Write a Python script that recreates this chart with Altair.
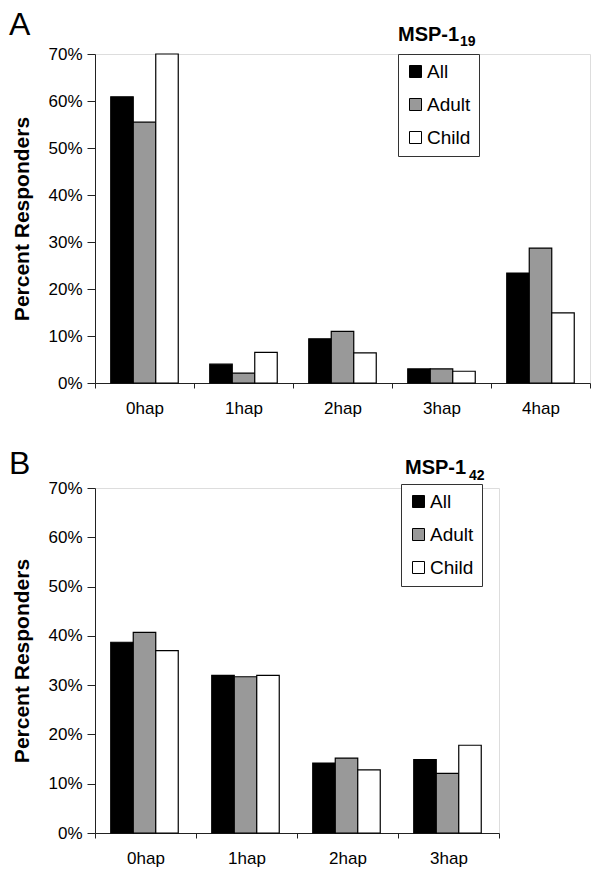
import altair as alt
import pandas as pd

groups = ["All", "Adult", "Child"]
group_colors = ["#000000", "#999999", "#ffffff"]

cats_a = ["0hap", "1hap", "2hap", "3hap", "4hap"]
all_a = [60.9, 4.0, 9.4, 3.0, 23.4]
adult_a = [55.5, 2.1, 11.0, 3.0, 28.7]
child_a = [70.0, 6.5, 6.4, 2.5, 14.9]

cats_b = ["0hap", "1hap", "2hap", "3hap"]
all_b = [38.7, 32.0, 14.2, 14.9]
adult_b = [40.7, 31.7, 15.2, 12.1]
child_b = [37.0, 32.0, 12.8, 17.8]

y_ticks = [0, 10, 20, 30, 40, 50, 60, 70]

FONT = "Liberation Sans"


def make_df(cats, a, b, c):
    rows = []
    for i, cat in enumerate(cats):
        for g, vals in zip(groups, [a, b, c]):
            rows.append({"cat": cat, "group": g, "value": vals[i]})
    return pd.DataFrame(rows)


def panel(cats, a, b, c, letter, sub, width, height, title_pad, letter_x, letter_y,
          legend_x, legend_y, msp_x, msp_y, sub_x, sub_y):
    df = make_df(cats, a, b, c)
    bars = alt.Chart(df).mark_bar(stroke="black", strokeWidth=1.2).encode(
        x=alt.X(
            "cat:N",
            sort=cats,
            scale=alt.Scale(paddingInner=0, paddingOuter=0),
            axis=alt.Axis(
                title=None, labelAngle=0, tickBand="extent", tickSize=5,
                labelPadding=12, labelFontSize=17, labelColor="black",
                domainColor="#222", tickColor="#222", labelFont=FONT,
            ),
        ),
        xOffset=alt.XOffset(
            "group:N", sort=groups,
            scale=alt.Scale(paddingInner=0, paddingOuter=0.7),
        ),
        y=alt.Y(
            "value:Q",
            scale=alt.Scale(domain=[0, 70], nice=False),
            axis=alt.Axis(
                values=y_ticks, labelExpr="datum.value + '%'", grid=False,
                tickSize=8, labelPadding=5, labelFontSize=17, labelColor="black",
                domainColor="#222", tickColor="#222", labelFont=FONT,
                title="Percent Responders", titleFontSize=21, titleFontWeight="bold",
                titleFont=FONT, titleColor="black", titlePadding=title_pad,
            ),
        ),
        color=alt.Color(
            "group:N", sort=groups,
            scale=alt.Scale(domain=groups, range=group_colors),
            legend=alt.Legend(
                title=None, orient="none", legendX=legend_x, legendY=legend_y,
                symbolType="square", symbolSize=144, symbolStrokeColor="black",
                symbolStrokeWidth=1, labelFontSize=19, labelFont=FONT,
                labelColor="black", labelOffset=2, rowPadding=13, padding=8,
                strokeColor="#333", fillColor="white",
            ),
        ),
    )
    letter_mark = alt.Chart(pd.DataFrame({"t": [letter]})).mark_text(
        align="left", baseline="top", fontSize=32, font=FONT, color="black"
    ).encode(x=alt.value(letter_x), y=alt.value(letter_y), text="t:N")
    msp_mark = alt.Chart(pd.DataFrame({"t": ["MSP-1"]})).mark_text(
        align="left", baseline="alphabetic", fontSize=20, font=FONT,
        fontWeight="bold", color="black"
    ).encode(x=alt.value(msp_x), y=alt.value(msp_y), text="t:N")
    sub_mark = alt.Chart(pd.DataFrame({"t": [sub]})).mark_text(
        align="left", baseline="alphabetic", fontSize=14, font=FONT,
        fontWeight="bold", color="black"
    ).encode(x=alt.value(sub_x), y=alt.value(sub_y), text="t:N")
    return alt.layer(bars, letter_mark, msp_mark, sub_mark).properties(
        width=width, height=height
    )


panel_a = panel(cats_a, all_a, adult_a, child_a, "A", "19", 495, 329, 15,
                -86, -44, 303, 0, 303, -13, 365, -8)
panel_b = panel(cats_b, all_b, adult_b, child_b, "B", "42", 404, 345, 15,
                -86, -39, 306, -4, 310, -14, 374, -8)

chart = alt.vconcat(panel_a, panel_b, spacing=30).resolve_scale(
    color="independent"
).configure_view(stroke=None).properties(padding=0).configure(font=FONT)

chart.save("out.html", embed_options={"renderer": "svg", "actions": False})
